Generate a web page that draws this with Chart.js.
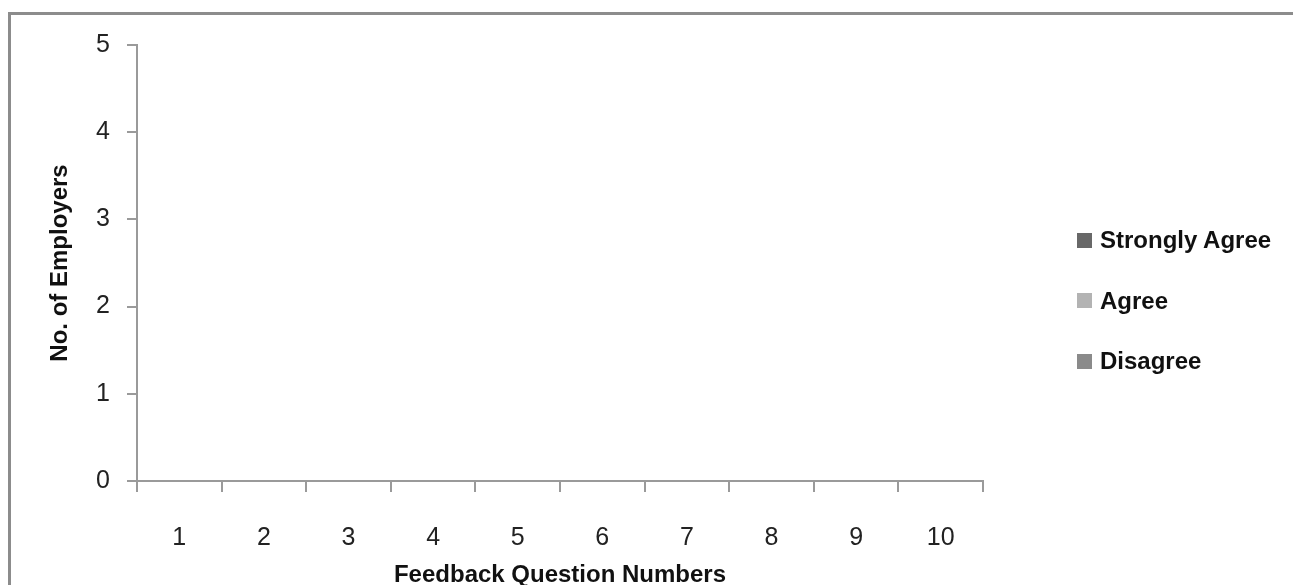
<!DOCTYPE html>
<html>
<head>
<meta charset="utf-8">
<script src="https://cdn.jsdelivr.net/npm/chart.js@4.4.1/dist/chart.umd.min.js"></script>
<style>
  html, body { margin: 0; padding: 0; background: #fff; overflow: hidden; }
  #wrap { position: relative; width: 1293px; height: 585px; }
  #frame {
    position: absolute; left: 8px; top: 12px; width: 1400px; height: 700px;
    border-top: 3px solid #8c8c8c; border-left: 3px solid #8c8c8c;
  }
  #myChart { position: absolute; left: 0; top: 0; }
  #legend {
    position: absolute; left: 1077px; top: 210px;
    font: bold 24px "Liberation Sans", Arial, sans-serif; color: #111;
  }
  .item { display: flex; align-items: center; height: 60.5px; }
  .box { width: 15px; height: 15px; margin-right: 8px; }
</style>
</head>
<body>
<div id="wrap">
  <div id="frame"></div>
  <canvas id="myChart" width="1293" height="585"></canvas>
  <div id="legend"></div>
</div>
<script>
"use strict";

const questions = ["1", "2", "3", "4", "5", "6", "7", "8", "9", "10"];
const stronglyAgree = [0, 0, 0, 0, 0, 0, 0, 0, 0, 0];
const agree = [0, 0, 0, 0, 0, 0, 0, 0, 0, 0];
const disagree = [0, 0, 0, 0, 0, 0, 0, 0, 0, 0];

const darkGray = "#686868";
const lightGray = "#b3b3b3";
const midGray = "#8a8a8a";
const axisGray = "#9a9a9a";

const tickFont = { family: "'Liberation Sans', Arial, sans-serif", size: 25 };
const titleFont = { family: "'Liberation Sans', Arial, sans-serif", size: 24, weight: "bold", lineHeight: 1 };

const ctx = document.getElementById("myChart");

const data = {
  labels: questions,
  datasets: [
    { label: "Strongly Agree", data: stronglyAgree, backgroundColor: darkGray },
    { label: "Agree", data: agree, backgroundColor: lightGray },
    { label: "Disagree", data: disagree, backgroundColor: midGray },
  ],
};

const config = {
  type: "bar",
  data: data,
  options: {
    responsive: false,
    animation: false,
    layout: {
      padding: { left: 40, top: 45, right: 310, bottom: 0 },
    },
    scales: {
      x: {
        grid: {
          offset: true,
          drawOnChartArea: false,
          drawTicks: true,
          tickLength: 11,
          color: axisGray,
          lineWidth: 2,
        },
        border: { color: axisGray, width: 2 },
        ticks: { color: "#222", font: tickFont, padding: 31, maxRotation: 0 },
        title: {
          display: true,
          text: "Feedback Question Numbers",
          color: "#111",
          font: titleFont,
          padding: { top: 0, bottom: -2 },
        },
        afterFit: (scale) => {
          scale.height = 104;
        },
      },
      y: {
        min: 0,
        max: 5,
        grid: {
          drawOnChartArea: false,
          drawTicks: true,
          tickLength: 10,
          color: axisGray,
          lineWidth: 2,
        },
        border: { color: axisGray, width: 2 },
        ticks: { stepSize: 1, color: "#222", font: tickFont, padding: 17 },
        title: {
          display: true,
          text: "No. of Employers",
          color: "#111",
          font: titleFont,
          padding: { top: 8, bottom: 0 },
        },
        afterFit: (scale) => {
          scale.width = 97;
        },
      },
    },
    plugins: {
      legend: { display: false },
      tooltip: { enabled: false },
    },
  },
};

const chart = new Chart(ctx, config);

// legend drawn as html next to the plot
const legendEl = document.getElementById("legend");
chart.data.datasets.forEach((ds) => {
  const item = document.createElement("div");
  item.className = "item";
  const box = document.createElement("span");
  box.className = "box";
  box.style.background = ds.backgroundColor;
  const text = document.createElement("span");
  text.textContent = ds.label;
  item.appendChild(box);
  item.appendChild(text);
  legendEl.appendChild(item);
});
</script>
</body>
</html>
